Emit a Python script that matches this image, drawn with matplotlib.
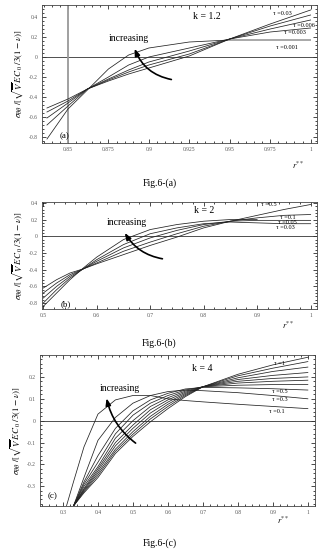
import numpy as np
import matplotlib.pyplot as plt
from matplotlib.ticker import AutoMinorLocator

plt.rcParams['font.family'] = ['Liberation Serif', 'DejaVu Serif']
plt.rcParams['mathtext.fontset'] = 'stix'

nan = np.nan

# ---- Fig.6-(a), k = 1.2 ----
xa = [0.837, 0.85, 0.862, 0.875, 0.8875, 0.9, 0.925, 0.95, 0.975, 1.0]
ya_curves = [
    [-0.82, -0.52, -0.33, -0.12, 0.02, 0.09, 0.15, 0.17, 0.17, 0.17],
    [-0.68, -0.49, -0.32, -0.20, -0.08, 0.00, 0.09, 0.18, 0.25, 0.29],
    [-0.61, -0.46, -0.32, -0.22, -0.13, -0.05, 0.06, 0.18, 0.28, 0.37],
    [-0.55, -0.44, -0.32, -0.23, -0.15, -0.08, 0.03, 0.18, 0.31, 0.42],
    [-0.51, -0.42, -0.32, -0.24, -0.17, -0.11, 0.01, 0.18, 0.33, 0.47],
]
tau_a = ['τ =0.03', 'τ =0.006', 'τ =0.003', 'τ =0.001']

# ---- Fig.6-(b), k = 2 ----
xb = [0.5, 0.525, 0.55, 0.575, 0.6, 0.65, 0.7, 0.75, 0.8, 0.85, 0.9, 0.95, 1.0]
yb_curves = [
    [-0.84, -0.68, -0.52, -0.38, -0.25, -0.04, 0.08, 0.14, 0.18, 0.20, 0.20, nan, nan],
    [-0.80, -0.64, -0.50, -0.39, -0.28, -0.10, 0.03, 0.10, 0.15, 0.17, 0.16, 0.15, 0.15],
    [-0.74, -0.60, -0.48, -0.39, -0.30, -0.14, -0.02, 0.07, 0.14, 0.18, 0.19, 0.19, 0.19],
    [-0.68, -0.56, -0.46, -0.39, -0.32, -0.18, -0.07, 0.03, 0.12, 0.18, 0.22, 0.25, 0.26],
    [-0.62, -0.52, -0.44, -0.39, -0.33, -0.22, -0.11, -0.01, 0.10, 0.18, 0.25, 0.32, 0.38],
]
tau_b = ['τ =0.5', 'τ =0.1', 'τ =0.05', 'τ =0.03']

# ---- Fig.6-(c), k = 4 ----
xc = [0.31, 0.33, 0.36, 0.4, 0.45, 0.5, 0.55, 0.6, 0.65, 0.7, 0.8, 0.9, 1.0]
yc_curves = [
    [-0.39, -0.28, -0.12, 0.03, 0.095, 0.115, 0.115, 0.10, 0.092, 0.086, 0.075, 0.065, 0.055],
    [nan, -0.39, -0.26, -0.09, 0.015, 0.08, 0.115, 0.133, 0.14, 0.137, 0.128, 0.115, 0.10],
    [nan, -0.39, -0.28, -0.16, -0.035, 0.045, 0.095, 0.125, 0.145, 0.152, 0.15, 0.146, 0.14],
    [nan, -0.39, -0.29, -0.19, -0.06, 0.025, 0.08, 0.115, 0.14, 0.155, 0.162, 0.165, 0.165],
    [nan, -0.39, -0.30, -0.21, -0.08, 0.0, 0.065, 0.105, 0.135, 0.155, 0.172, 0.18, 0.185],
    [nan, -0.39, -0.31, -0.22, -0.10, -0.02, 0.05, 0.095, 0.13, 0.155, 0.18, 0.193, 0.20],
    [nan, -0.39, -0.315, -0.23, -0.115, -0.035, 0.035, 0.085, 0.125, 0.155, 0.188, 0.207, 0.22],
    [nan, -0.39, -0.32, -0.24, -0.13, -0.05, 0.02, 0.075, 0.12, 0.155, 0.196, 0.225, 0.245],
    [nan, -0.39, -0.325, -0.25, -0.14, -0.062, 0.008, 0.065, 0.115, 0.155, 0.205, 0.24, 0.27],
    [nan, -0.39, -0.33, -0.26, -0.15, -0.072, -0.005, 0.055, 0.11, 0.155, 0.212, 0.255, 0.29],
]
tau_c = ['τ =1', 'τ =0.5', 'τ =0.3', 'τ =0.1']

ylab = r'$\sigma_{\theta\theta}\ /[\sqrt{\overline{V}}\,EC_{\,0}\ /3(1-\nu)]$'


def frame(ax, xlim, ylim, xticks, xlabels, yticks, ylabels):
    ax.set_xlim(*xlim)
    ax.set_ylim(*ylim)
    ax.set_xticks(xticks)
    ax.set_xticklabels(xlabels)
    ax.set_yticks(yticks)
    ax.set_yticklabels(ylabels)
    ax.xaxis.set_minor_locator(AutoMinorLocator(5))
    ax.yaxis.set_minor_locator(AutoMinorLocator(5))
    ax.tick_params(which='both', direction='in', top=True, right=True,
                   labelsize=4, labelcolor='#555555', width=0.5, pad=3)
    ax.tick_params(which='major', length=3)
    ax.tick_params(which='minor', length=1.5)
    for s in ax.spines.values():
        s.set_linewidth(0.6)
        s.set_color('#444444')
    ax.axhline(0, color='#333333', lw=0.6)
    ax.set_ylabel(ylab, fontsize=6.5, labelpad=2)


arrow = dict(arrowstyle='-|>,head_length=0.4,head_width=0.15', color='black', lw=1.2)

fig = plt.figure(figsize=(3.19, 5.49), dpi=100)

# panel (a)
ax = fig.add_axes([0.132, 0.7395, 0.862, 0.2514])
frame(ax, (0.834, 1.004), (-0.86, 0.52),
      [0.85, 0.875, 0.9, 0.925, 0.95, 0.975, 1.0],
      ['0.85', '0.875', '0.9', '0.925', '0.95', '0.975', '1'],
      [-0.8, -0.6, -0.4, -0.2, 0, 0.2, 0.4],
      ['-0.8', '-0.6', '-0.4', '-0.2', '0', '0.2', '0.4'])
ax.axvline(0.85, color='#999999', lw=1.3)
for y in ya_curves:
    ax.plot(xa, y, color='#222222', lw=0.55)
ax.text(0.9356, 0.40, 'k = 1.2', fontsize=7, ha='center', va='center')
ax.text(0.8875, 0.19, 'increasing', fontsize=7, ha='center', va='center')
ax.annotate('', xy=(0.8906, 0.11), xytext=(0.9156, -0.23),
            arrowprops=dict(arrow, connectionstyle='arc3,rad=-0.3'))
ax.text(0.848, -0.79, '(a)', fontsize=6.5, ha='center', va='center')
ax.text(0.9825, 0.43, tau_a[0], fontsize=4.5, ha='center', va='center')
ax.text(0.989, 0.31, tau_a[1], fontsize=4.5, ha='left', va='center', clip_on=False)
ax.text(0.990, 0.24, tau_a[2], fontsize=4.5, ha='center', va='center')
ax.text(0.9856, 0.10, tau_a[3], fontsize=4.5, ha='center', va='center')
fig.text(0.934, 1 - 165 / 549, r'$r^{**}$', fontsize=6, ha='center', va='center')
fig.text(0.5, 1 - 183 / 549, 'Fig.6-(a)', fontsize=7, ha='center', va='center')

# panel (b)
ax = fig.add_axes([0.132, 0.4372, 0.862, 0.1949])
frame(ax, (0.498, 1.012), (-0.87, 0.41),
      [0.5, 0.6, 0.7, 0.8, 0.9, 1.0],
      ['0.5', '0.6', '0.7', '0.8', '0.9', '1'],
      [-0.8, -0.6, -0.4, -0.2, 0, 0.2, 0.4],
      ['-0.8', '-0.6', '-0.4', '-0.2', '0', '0.2', '0.4'])
for y in yb_curves:
    ax.plot(xb, y, color='#222222', lw=0.55)
ax.text(0.80, 0.31, 'k = 2', fontsize=7, ha='center', va='center')
ax.text(0.657, 0.17, 'increasing', fontsize=7, ha='center', va='center')
ax.annotate('', xy=(0.65, 0.07), xytext=(0.728, -0.275),
            arrowprops=dict(arrow, connectionstyle='arc3,rad=-0.25'))
ax.text(0.543, -0.81, '(b)', fontsize=6.5, ha='center', va='center')
ax.text(0.921, 0.38, tau_b[0], fontsize=4.5, ha='center', va='center')
ax.text(0.957, 0.23, tau_b[1], fontsize=4.5, ha='center', va='center')
ax.text(0.957, 0.17, tau_b[2], fontsize=4.5, ha='center', va='center')
ax.text(0.953, 0.11, tau_b[3], fontsize=4.5, ha='center', va='center')
fig.text(0.903, 1 - 325 / 549, r'$r^{**}$', fontsize=6, ha='center', va='center')
fig.text(0.5, 1 - 343 / 549, 'Fig.6-(b)', fontsize=7, ha='center', va='center')

# panel (c)
ax = fig.add_axes([0.125, 0.0783, 0.862, 0.275])
frame(ax, (0.234, 1.02), (-0.39, 0.30),
      [0.3, 0.4, 0.5, 0.6, 0.7, 0.8, 0.9, 1.0],
      ['0.3', '0.4', '0.5', '0.6', '0.7', '0.8', '0.9', '1'],
      [-0.3, -0.2, -0.1, 0, 0.1, 0.2],
      ['-0.3', '-0.2', '-0.1', '0', '0.1', '0.2'])
for y in yc_curves:
    ax.plot(xc, y, color='#222222', lw=0.55)
ax.text(0.697, 0.24, 'k = 4', fontsize=7, ha='center', va='center')
ax.text(0.463, 0.147, 'increasing', fontsize=7, ha='center', va='center')
ax.annotate('', xy=(0.423, 0.115), xytext=(0.514, -0.11),
            arrowprops=dict(arrow, connectionstyle='arc3,rad=-0.2'))
ax.text(0.27, -0.345, '(c)', fontsize=6.5, ha='center', va='center')
ax.text(0.92, 0.262, tau_c[0], fontsize=4.5, ha='center', va='center')
ax.text(0.92, 0.134, tau_c[1], fontsize=4.5, ha='center', va='center')
ax.text(0.92, 0.097, tau_c[2], fontsize=4.5, ha='center', va='center')
ax.text(0.91, 0.042, tau_c[3], fontsize=4.5, ha='center', va='center')
fig.text(0.887, 1 - 520 / 549, r'$r^{**}$', fontsize=6, ha='center', va='center')
fig.text(0.5, 1 - 543 / 549, 'Fig.6-(c)', fontsize=7, ha='center', va='center')

fig.savefig('out.png', dpi=100)
